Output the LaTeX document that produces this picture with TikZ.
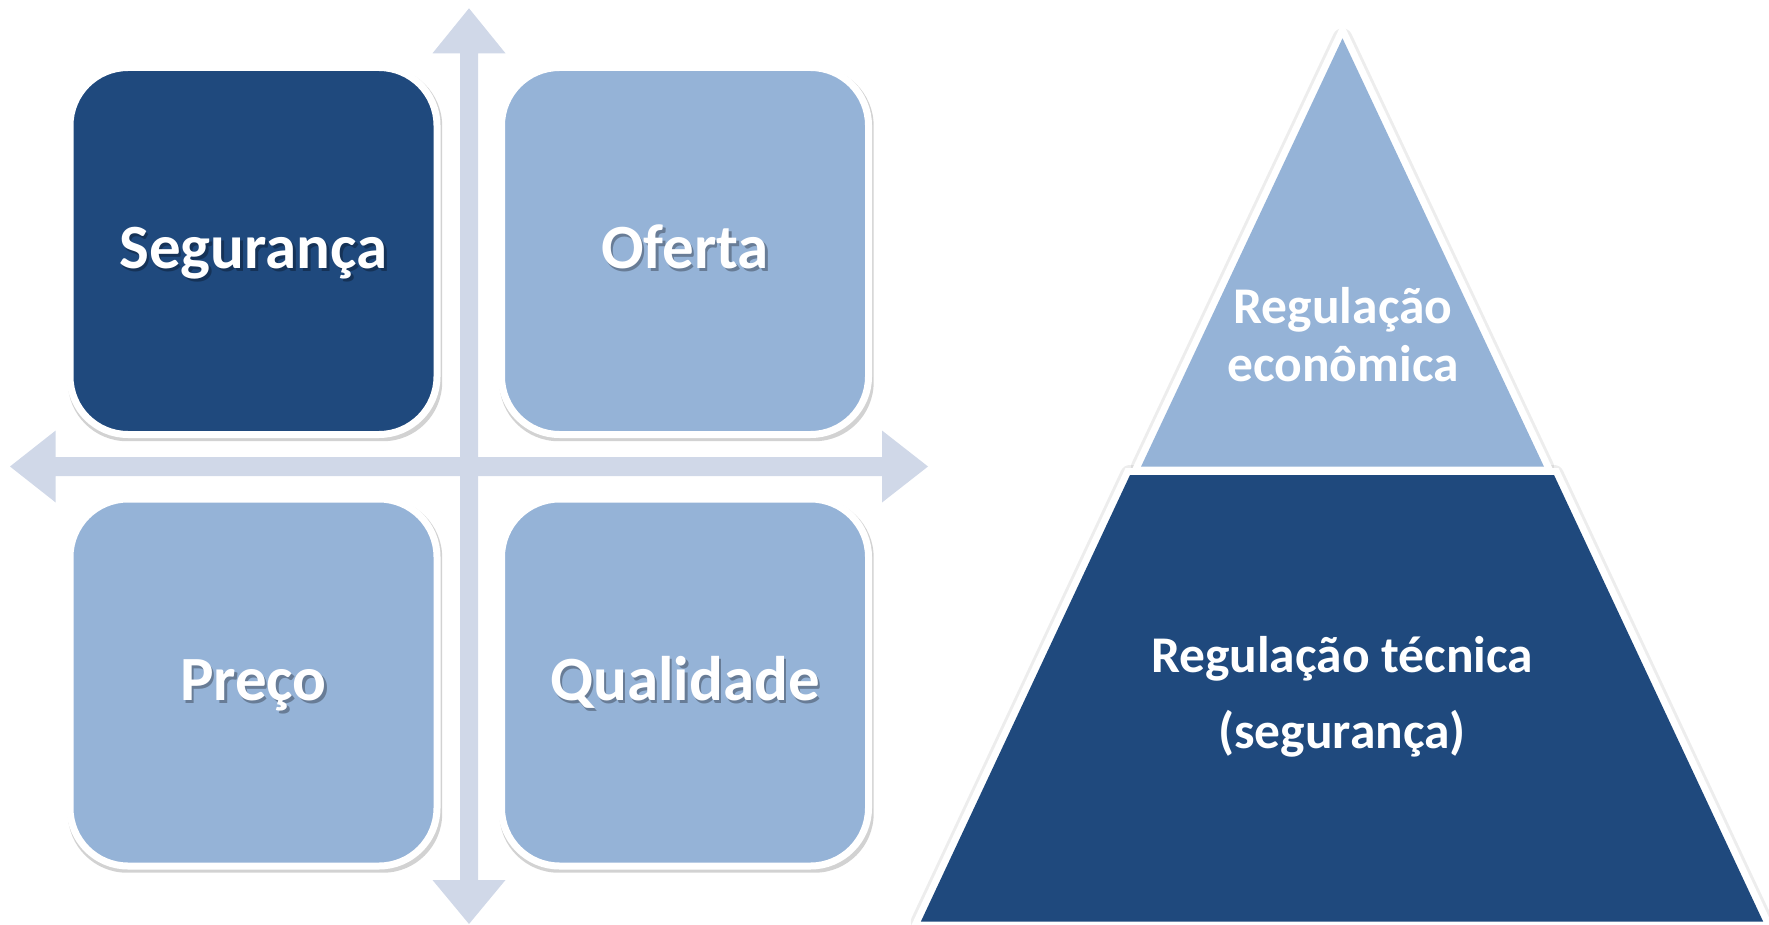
\documentclass[tikz,border=0pt]{standalone}
\usepackage{fontspec}
\setmainfont{Carlito}
\usetikzlibrary{shadows}
\definecolor{darkblue}{RGB}{31,73,125}
\definecolor{lightblue}{RGB}{149,179,215}
\definecolor{axisc}{RGB}{208,216,232}
\begin{document}
\begin{tikzpicture}[x=1pt,y=-1pt,
  quad/.style={rounded corners=58pt, draw=white, line width=7pt,
    minimum width=367pt, minimum height=367pt, inner sep=0pt,
    drop shadow={shadow xshift=1.5pt, shadow yshift=-3pt, shadow scale=1.02, opacity=.25, fill=black!70}},
  qfont/.style={font=\fontsize{63}{70}\selectfont\bfseries},
  qtext/.style={qfont, anchor=base, text=white, inner sep=0pt},
  qshadow/.style={qfont, anchor=base, text=black, opacity=.3, inner sep=0pt},
  ptext/.style={font=\fontsize{51.5}{58}\selectfont\bfseries, anchor=base, text=white, inner sep=0pt},
  halo/.style={draw=black, opacity=.07, line width=20pt, line join=round},
  rim/.style={draw=white, line width=14pt, line join=miter}
]
\useasboundingbox (0,0) rectangle (1769,925);

% axes
\fill[axisc] (10,466.5) -- (55.7,430.5) -- (55.7,457) -- (882,457) -- (882,430.5)
  -- (928,466.5) -- (882,502.5) -- (882,476) -- (55.7,476) -- (55.7,502.5) -- cycle;
\fill[axisc] (469,8.3) -- (505.5,53.3) -- (478,53.3) -- (478,880) -- (505.5,880)
  -- (469,924) -- (432.5,880) -- (460,880) -- (460,53.3) -- (432.5,53.3) -- cycle;

% quadrant boxes
\node[quad, fill=darkblue]  (seg) at (253.5,251) {};
\node[quad, fill=lightblue] (ofe) at (685,251) {};
\node[quad, fill=lightblue] (pre) at (253.5,682.5) {};
\node[quad, fill=lightblue] (qua) at (685,682.5) {};

\node[qshadow] (segS) at (256,271.5) {Segurança};
\node[qtext]   (segT) at (253.5,269) {Segurança};
\node[qshadow] (ofeS) at (687.5,271.5) {Oferta};
\node[qtext]   (ofeT) at (685,269) {Oferta};
\node[qshadow] (preS) at (256,703) {Preço};
\node[qtext]   (preT) at (253.5,700.5) {Preço};
\node[qshadow] (quaS) at (687.5,703) {Qualidade};
\node[qtext]   (quaT) at (685,700.5) {Qualidade};

% pyramid
\coordinate (apex) at (1342.5,38.3);
\coordinate (tl) at (1141,466.7);
\coordinate (tr) at (1544,466.7);
\coordinate (bl) at (1130,475);
\coordinate (br) at (1554,475);
\coordinate (dl) at (920.8,921.7);
\coordinate (dr) at (1763.2,921.7);

\path[halo] (apex) -- (tr) -- (tl) -- cycle;
\path[halo] (bl) -- (br) -- (dr) -- (dl) -- cycle;
\path[rim] (apex) -- (tr) -- (tl) -- cycle;
\path[rim] (bl) -- (br) -- (dr) -- (dl) -- cycle;
\fill[lightblue] (apex) -- (tr) -- (tl) -- cycle;
\fill[darkblue] (bl) -- (br) -- (dr) -- (dl) -- cycle;

\node[ptext] (eco1) at (1343,323.3) {Regulação};
\node[ptext] (eco2) at (1343,381.7) {econômica};
\node[ptext] (tec1) at (1342,672.7) {Regulação técnica};
\node[ptext] (tec2) at (1342,748.3) {(segurança)};
\end{tikzpicture}
\end{document}
